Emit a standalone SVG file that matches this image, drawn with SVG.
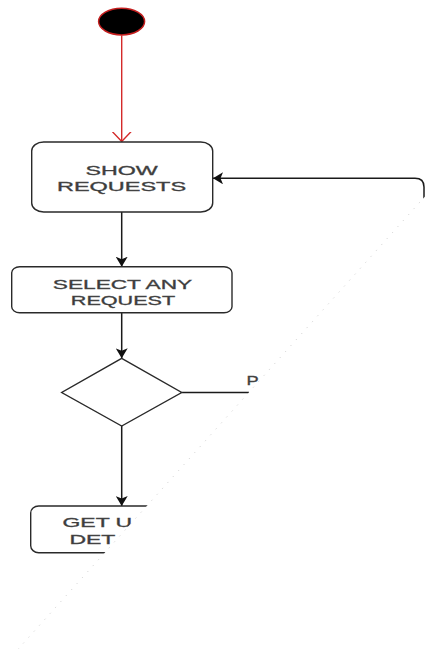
<svg xmlns="http://www.w3.org/2000/svg" width="425" height="649" viewBox="0 0 425 649">
  <style>
    .box { fill: #ffffff; stroke: #2a2a2a; stroke-width: 1.4; }
    .lbl { font-family: "Liberation Sans", Arial, sans-serif; font-size: 13.5px; fill: #3a3a3a; stroke: #4a4a4a; stroke-width: 0.35; }
    .edge { fill: none; stroke: #1a1a1a; stroke-width: 1.5; }
    .red { fill: none; stroke: #d42a2a; stroke-width: 1.4; }
  </style>
  <defs>
    <clipPath id="visible">
      <polygon points="0,0 425,0 425,196.4 18.2,649 0,649"/>
    </clipPath>
    <marker id="arrow" markerUnits="userSpaceOnUse" viewBox="0 0 10 12" refX="10" refY="6" markerWidth="10" markerHeight="12" orient="auto" preserveAspectRatio="none">
      <path d="M0,0 L10,6 L0,12 L2.5,6 z" fill="#111111"/>
    </marker>
    <marker id="openRed" markerUnits="userSpaceOnUse" viewBox="0 0 10 20" refX="10" refY="10" markerWidth="10" markerHeight="20" orient="auto" preserveAspectRatio="none">
      <path d="M0,0.5 L10,10 L0,19.5" fill="none" stroke="#d42a2a" stroke-width="1.4"/>
    </marker>
  </defs>
  <rect x="0" y="0" width="425" height="649" fill="#ffffff"/>
  <g clip-path="url(#visible)">
    <g id="connectors">
      <path class="red" d="M121.7,35.5 L121.7,141.5" marker-end="url(#openRed)"/>
      <path class="edge" d="M121.7,212 L121.7,266.7" marker-end="url(#arrow)"/>
      <path class="edge" d="M121.7,312.7 L121.7,358.3" marker-end="url(#arrow)"/>
      <path class="edge" d="M121.7,426 L121.7,506" marker-end="url(#arrow)"/>
      <path class="edge" d="M181.7,392.5 L249,392.5"/>
      <path class="edge" d="M424,200 L424,187 Q424,178.3 415,178.3 L213,178.3" marker-end="url(#arrow)"/>
      <text class="lbl" transform="translate(246.5,384.5) scale(1.35,1)" x="0" y="0">P</text>
    </g>
    <g id="start">
      <ellipse cx="121.6" cy="21.6" rx="23" ry="13.3" fill="#000000" stroke="#c41e1e" stroke-width="1.5"/>
    </g>
    <g id="show-requests">
      <rect class="box" x="31.7" y="142" width="181" height="70" rx="12" ry="9"/>
      <text class="lbl" text-anchor="middle" transform="translate(121.5,175.3) scale(1.72,1)">SHOW</text>
      <text class="lbl" text-anchor="middle" transform="translate(121.5,190.5) scale(1.74,1)">REQUESTS</text>
    </g>
    <g id="select-request">
      <rect class="box" x="11.7" y="266.7" width="220.3" height="46" rx="8" ry="6"/>
      <text class="lbl" text-anchor="middle" transform="translate(122.5,288.5) scale(1.68,1)">SELECT ANY</text>
      <text class="lbl" text-anchor="middle" transform="translate(123,304.5) scale(1.6,1)">REQUEST</text>
    </g>
    <g id="decision">
      <polygon class="box" points="121.7,358.3 181.7,392.5 121.7,426 61.7,392.5"/>
    </g>
    <g id="get-user-details">
      <rect class="box" x="30.7" y="506" width="182" height="46.7" rx="8" ry="7"/>
      <text class="lbl" transform="translate(62.5,526.5) scale(1.7,1)" x="0" y="0">GET U</text>
      <text class="lbl" transform="translate(69.5,543.5) scale(1.7,1)" x="0" y="0">DET</text>
    </g>
  </g>
  <line x1="425" y1="196.4" x2="18.2" y2="649" stroke="#9a9a9a" stroke-width="0.8" stroke-dasharray="1 7" opacity="0.6"/>
</svg>
